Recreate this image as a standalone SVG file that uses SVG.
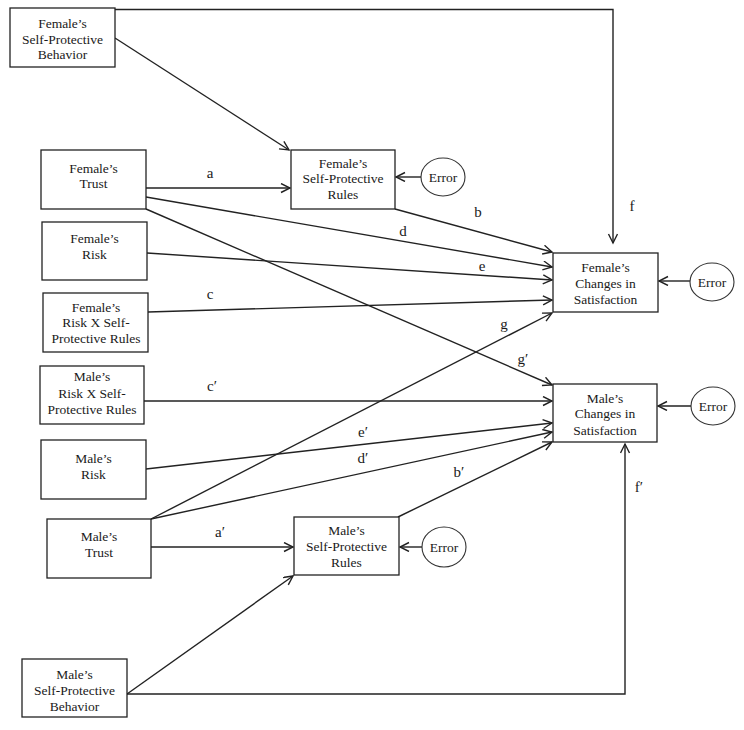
<svg xmlns="http://www.w3.org/2000/svg" width="744" height="730" viewBox="0 0 744 730">
<style>
.box{fill:#fff;stroke:#222;stroke-width:1.3}
.err{fill:#fff;stroke:#333;stroke-width:1.1}
.t{font-family:'Liberation Serif','DejaVu Serif','Times New Roman',Times,serif;font-size:13.5px;fill:#1a1a1a;text-anchor:middle}
.lbl{font-family:'Liberation Serif','DejaVu Serif','Times New Roman',Times,serif;font-size:15px;fill:#1a1a1a;text-anchor:middle}
.c{fill:none;stroke:#222;stroke-width:1.4;marker-end:url(#ah)}
</style>
<defs>
<marker id="ah" markerUnits="userSpaceOnUse" markerWidth="12" markerHeight="12" refX="10" refY="5" orient="auto">
<path d="M1,0.5 L10,5 L1,9.5" fill="none" stroke="#222" stroke-width="1.4"/>
</marker>
</defs>
<rect width="744" height="730" fill="#fff"/>
<g id="connectors">
<polyline class="c" points="115,9.5 613,9.5 613,243"/>
<line class="c" x1="115" y1="38" x2="289" y2="150"/>
<line class="c" x1="146" y1="188" x2="290" y2="188"/>
<line class="c" x1="421" y1="177" x2="396" y2="177"/>
<line class="c" x1="395" y1="209" x2="552" y2="252"/>
<line class="c" x1="146" y1="197" x2="552" y2="267"/>
<line class="c" x1="147" y1="253" x2="552" y2="280"/>
<line class="c" x1="148" y1="312" x2="552" y2="300"/>
<line class="c" x1="151" y1="519" x2="552" y2="313"/>
<line class="c" x1="146" y1="209" x2="552" y2="385"/>
<line class="c" x1="144" y1="401" x2="552" y2="401"/>
<line class="c" x1="146" y1="469" x2="552" y2="423"/>
<line class="c" x1="151" y1="519" x2="552" y2="432"/>
<line class="c" x1="398" y1="517" x2="552" y2="442"/>
<line class="c" x1="151" y1="547" x2="293" y2="547"/>
<line class="c" x1="422" y1="547" x2="400" y2="547"/>
<line class="c" x1="127" y1="694" x2="293" y2="576"/>
<polyline class="c" points="127,694 625,694 625,444"/>
<line class="c" x1="690" y1="281" x2="659" y2="281"/>
<line class="c" x1="691" y1="406" x2="658" y2="406"/>
</g>
<g id="labels">
<text class="lbl" x="210" y="178">a</text>
<text class="lbl" x="478" y="217">b</text>
<text class="lbl" x="632" y="211">f</text>
<text class="lbl" x="403" y="236">d</text>
<text class="lbl" x="482" y="271">e</text>
<text class="lbl" x="210" y="299">c</text>
<text class="lbl" x="504" y="329">g</text>
<text class="lbl" x="523" y="364">g′</text>
<text class="lbl" x="212" y="391">c′</text>
<text class="lbl" x="363" y="437">e′</text>
<text class="lbl" x="363" y="463">d′</text>
<text class="lbl" x="459" y="477">b′</text>
<text class="lbl" x="220" y="537">a′</text>
<text class="lbl" x="639" y="492">f′</text>
</g>
<g id="fspb"><rect class="box" x="10" y="8" width="105" height="59"/><text class="t" x="62.5" y="27.5">Female’s<tspan x="62.5" y="43.5">Self-Protective</tspan><tspan x="62.5" y="58.5">Behavior</tspan></text></g>
<g id="ftrust"><rect class="box" x="41" y="150" width="105" height="59"/><text class="t" x="93.5" y="172.5">Female’s<tspan x="93.5" y="187.5">Trust</tspan></text></g>
<g id="fspr"><rect class="box" x="291" y="150" width="104" height="59"/><text class="t" x="343" y="167.5">Female’s<tspan x="343" y="182.5">Self-Protective</tspan><tspan x="343" y="198.5">Rules</tspan></text></g>
<g id="frisk"><rect class="box" x="42" y="222" width="105" height="58"/><text class="t" x="94.5" y="242.5">Female’s<tspan x="94.5" y="258.5">Risk</tspan></text></g>
<g id="friskx"><rect class="box" x="43" y="293" width="105" height="59"/><text class="t" x="96" y="311.5">Female’s<tspan x="96" y="326.5">Risk X Self-</tspan><tspan x="96" y="342.5">Protective Rules</tspan></text></g>
<g id="mriskx"><rect class="box" x="40" y="366" width="104" height="58"/><text class="t" x="92" y="381">Male’s<tspan x="92" y="397.5">Risk X Self-</tspan><tspan x="92" y="413.5">Protective Rules</tspan></text></g>
<g id="mrisk"><rect class="box" x="41" y="440" width="105" height="59"/><text class="t" x="93.5" y="462.5">Male’s<tspan x="93.5" y="478.5">Risk</tspan></text></g>
<g id="mtrust"><rect class="box" x="47" y="519" width="104" height="59"/><text class="t" x="99" y="540.5">Male’s<tspan x="99" y="556.5">Trust</tspan></text></g>
<g id="mspb"><rect class="box" x="22" y="659" width="105" height="58"/><text class="t" x="74.5" y="678.5">Male’s<tspan x="74.5" y="694.5">Self-Protective</tspan><tspan x="74.5" y="710.5">Behavior</tspan></text></g>
<g id="mspr"><rect class="box" x="294" y="517" width="105" height="58"/><text class="t" x="346.5" y="534.5">Male’s<tspan x="346.5" y="550.5">Self-Protective</tspan><tspan x="346.5" y="566.5">Rules</tspan></text></g>
<g id="fcs"><rect class="box" x="553" y="253" width="105" height="59"/><text class="t" x="605.5" y="271.5">Female’s<tspan x="605.5" y="287.5">Changes in</tspan><tspan x="605.5" y="303.5">Satisfaction</tspan></text></g>
<g id="mcs"><rect class="box" x="553" y="384" width="104" height="58"/><text class="t" x="605" y="402.5">Male’s<tspan x="605" y="418">Changes in</tspan><tspan x="605" y="434.5">Satisfaction</tspan></text></g>
<g id="err1"><ellipse class="err" cx="443" cy="177" rx="22" ry="19"/><text class="t" x="443" y="181.5">Error</text></g>
<g id="err2"><ellipse class="err" cx="712" cy="282" rx="22" ry="19"/><text class="t" x="712" y="286.5">Error</text></g>
<g id="err3"><ellipse class="err" cx="713" cy="406" rx="22" ry="19"/><text class="t" x="713" y="410.5">Error</text></g>
<g id="err4"><ellipse class="err" cx="444" cy="547" rx="22" ry="20"/><text class="t" x="444" y="551.5">Error</text></g>
</svg>
